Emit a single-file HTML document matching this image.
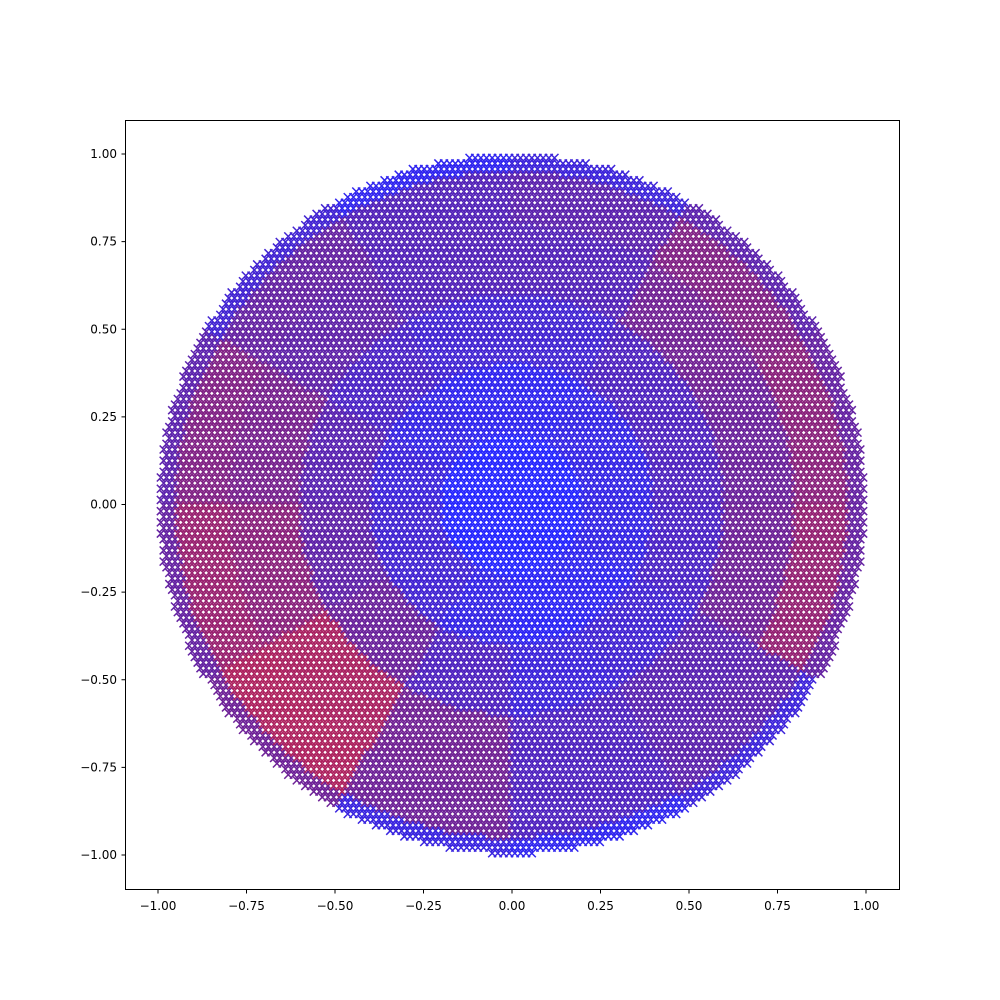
<!DOCTYPE html>
<html><head><meta charset="utf-8"><style>
body{margin:0;background:#fff;}
svg{display:block;font-family:"DejaVu Sans","Liberation Sans",sans-serif;}
</style></head><body>
<svg id="chart" width="1000" height="1000" viewBox="0 0 1000 1000" xmlns="http://www.w3.org/2000/svg">
<rect x="0" y="0" width="1000" height="1000" fill="#fff"/>
<g id="marks"></g>
<rect x="125.5" y="120.5" width="774" height="769" fill="none" stroke="#000" stroke-width="1"/>
<g id="xticks"></g>
<g id="yticks"></g>
</svg>
<script>
// Redness (0=blue,1=red) by ring (inner->outer) and 30° sector (from east, counter-clockwise)
const ringEdges = [0, 0.2, 0.4, 0.6, 0.8, 0.95];
const ring0 = [0.0,0.0,0.0,0.0,0.0,0.0,0.0,0.0,0.0,0.0,0.0,0.0];
const ring1 = [0.08,0.08,0.05,0.05,0.08,0.12,0.15,0.15,0.08,0.03,0.05,0.08];
const ring2 = [0.22,0.22,0.15,0.15,0.2,0.28,0.32,0.38,0.22,0.12,0.15,0.2];
const ring3 = [0.38,0.42,0.25,0.25,0.32,0.45,0.55,0.7,0.42,0.22,0.28,0.4];
const ring4 = [0.55,0.5,0.3,0.25,0.35,0.5,0.62,0.72,0.4,0.22,0.3,0.6];
const ring5 = [0.35,0.3,0.12,0.05,0.15,0.3,0.35,0.4,0.1,0.05,0.12,0.35];
const rings = [ring0, ring1, ring2, ring3, ring4, ring5];
const tickValues = [-1.00,-0.75,-0.50,-0.25,0.00,0.25,0.50,0.75,1.00];
const tickLabels = ["\u22121.00","\u22120.75","\u22120.50","\u22120.25","0.00","0.25","0.50","0.75","1.00"];

const sx = v => 512 + v*354;
const sy = v => 504.5 - v*350.5;
const NS = "http://www.w3.org/2000/svg";

function colorFor(t){
  const b=[38,38,255], r=[255,40,48];
  const c=b.map((v,i)=>Math.round(v+(r[i]-v)*t));
  const d = 1 - 0.25*t*(1-t)*2;
  return `rgb(${Math.round(c[0]*d)},${Math.round(c[1]*d)},${Math.round(c[2]*d)})`;
}
function redness(x,y){
  const r=Math.sqrt(x*x+y*y);
  let a=Math.atan2(y,x)*180/Math.PI; if(a<0)a+=360;
  let ri=0; for(let i=0;i<6;i++){ if(r>=ringEdges[i]) ri=i; }
  const s=Math.floor(a/30)%12;
  return rings[ri][s];
}
const marks=document.getElementById('marks');
const step=0.016;
let row=0;
for(let y=-0.995;y<=1;y+=step,row++){
  const off=(row%2)*step/2;
  for(let x=-1+off;x<=1;x+=step){
    if(x*x+y*y>0.995) continue;
    const px=sx(x), py=sy(y), h=4;
    const p=document.createElementNS(NS,'path');
    
    
    p.setAttribute('d',`M${px-h},${py-h}L${px+h},${py+h}M${px-h},${py+h}L${px+h},${py-h}`);
    p.setAttribute('stroke',colorFor(redness(x,y)));
    p.setAttribute('stroke-width','1.5');
    marks.appendChild(p);
  }
}
const xg=document.getElementById('xticks'), yg=document.getElementById('yticks');
tickValues.forEach((v,i)=>{
  const X=sx(v);
  const t=document.createElementNS(NS,'line');
  
  
  t.setAttribute('x1',X);t.setAttribute('x2',X);t.setAttribute('y1',890);t.setAttribute('y2',893.5);t.setAttribute('stroke','#000');
  xg.appendChild(t);
  const l=document.createElementNS(NS,'text');
  
  
  l.setAttribute('x',X);l.setAttribute('y',910);l.setAttribute('text-anchor','middle');l.setAttribute('font-size','12');
  l.textContent=tickLabels[i];
  xg.appendChild(l);
  const Y=sy(v);
  const t2=document.createElementNS(NS,'line');
  
  
  t2.setAttribute('x1',121.5);t2.setAttribute('x2',125);t2.setAttribute('y1',Y);t2.setAttribute('y2',Y);t2.setAttribute('stroke','#000');
  yg.appendChild(t2);
  const l2=document.createElementNS(NS,'text');
  
  
  l2.setAttribute('x',117);l2.setAttribute('y',Y+4);l2.setAttribute('text-anchor','end');l2.setAttribute('font-size','12');
  l2.textContent=tickLabels[i];
  yg.appendChild(l2);
});
</script>
</body></html>
